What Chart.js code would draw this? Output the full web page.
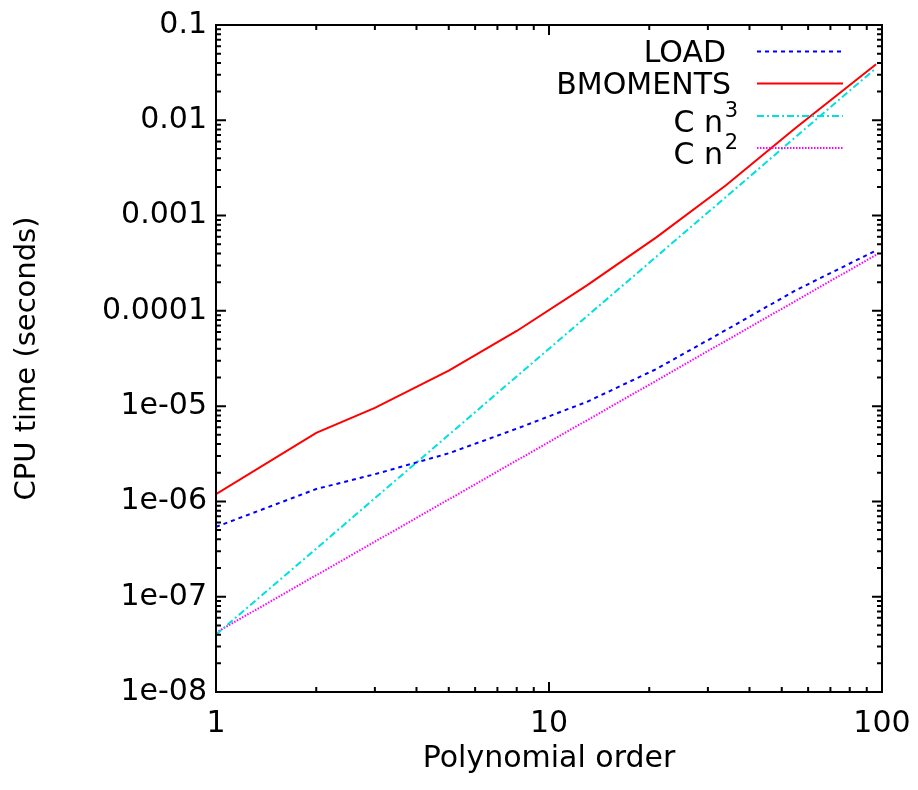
<!DOCTYPE html>
<html>
<head>
<meta charset="utf-8">
<script src="https://cdn.jsdelivr.net/npm/chart.js@4.4.1/dist/chart.umd.min.js"></script>
<style>
  html, body { margin: 0; padding: 0; background: #ffffff; }
  #wrap { width: 918px; height: 790px; }
</style>
</head>
<body>
<div id="wrap"><canvas id="c" width="918" height="790"></canvas></div>
<script>
// ---- data ----
const orders = [1, 2, 3, 5, 8, 13, 21, 34, 55, 96];
const loadTimes = [5.4e-7, 1.35e-6, 1.93e-6, 3.2e-6, 5.8e-6, 1.11e-5, 2.45e-5, 6.3e-5, 1.64e-4, 4.3e-4];
const bmomentsTimes = [1.19e-6, 5.24e-6, 9.6e-6, 2.36e-5, 6.15e-5, 1.85e-4, 5.9e-4, 2.08e-3, 8.3e-3, 3.87e-2];
const cn3Values = [4.0e-8, 3.2e-7, 1.08e-6, 5.0e-6, 2.05e-5, 8.8e-5, 3.7e-4, 1.57e-3, 6.66e-3, 3.54e-2];
const cn2Values = [4.2e-8, 1.68e-7, 3.78e-7, 1.05e-6, 2.69e-6, 7.1e-6, 1.85e-5, 4.86e-5, 1.27e-4, 3.87e-4];

const seriesNames = ['LOAD', 'BMOMENTS', 'C n^3', 'C n^2'];

const xTickValues = [1, 10, 100];
const xTickLabels = ['1', '10', '100'];
const yTickValues = [1e-8, 1e-7, 1e-6, 1e-5, 1e-4, 1e-3, 1e-2, 1e-1];
const yTickLabels = ['1e-08', '1e-07', '1e-06', '1e-05', '0.0001', '0.001', '0.01', '0.1'];

const xTitle = 'Polynomial order';
const yTitle = 'CPU time (seconds)';

// ---- build ----
const FONT = '"DejaVu Sans", "Liberation Sans", Arial, sans-serif';
function pts(ys) { return orders.map((x, i) => ({ x: x, y: ys[i] })); }

const styles = [
  { color: '#0000ff', dash: [4, 4] },
  { color: '#ff0000', dash: [] },
  { color: '#00e0e0', dash: [7, 3, 2, 3] },
  { color: '#ff00ff', dash: [1.5, 1.5] }
];
const seriesData = [loadTimes, bmomentsTimes, cn3Values, cn2Values];

const datasets = seriesNames.map((name, i) => ({
  label: name,
  data: pts(seriesData[i]),
  borderColor: styles[i].color,
  backgroundColor: styles[i].color,
  borderDash: styles[i].dash,
  borderWidth: 2,
  pointRadius: 0,
  tension: 0,
  fill: false
}));

const framePlugin = {
  id: 'gnuplotFrame',
  afterDatasetsDraw(chart) {
    const ctx = chart.ctx;
    const a = chart.chartArea;
    const xs = chart.scales.x, ys = chart.scales.y;
    ctx.save();
    ctx.strokeStyle = '#000';
    ctx.lineWidth = 2;
    ctx.setLineDash([]);
    ctx.strokeRect(a.left, a.top, a.right - a.left, a.bottom - a.top);
    const major = 10, minor = 5;
    ctx.beginPath();
    for (let d = xs.min; d <= xs.max * 1.0001; d *= 10) {
      const p = xs.getPixelForValue(d);
      ctx.moveTo(p, a.bottom); ctx.lineTo(p, a.bottom - major);
      ctx.moveTo(p, a.top); ctx.lineTo(p, a.top + major);
      if (d < xs.max * 0.999) {
        for (let m = 2; m <= 9; m++) {
          const q = xs.getPixelForValue(d * m);
          ctx.moveTo(q, a.bottom); ctx.lineTo(q, a.bottom - minor);
          ctx.moveTo(q, a.top); ctx.lineTo(q, a.top + minor);
        }
      }
    }
    for (let d = ys.min; d <= ys.max * 1.0001; d *= 10) {
      const p = ys.getPixelForValue(d);
      ctx.moveTo(a.left, p); ctx.lineTo(a.left + major, p);
      ctx.moveTo(a.right, p); ctx.lineTo(a.right - major, p);
      if (d < ys.max * 0.999) {
        for (let m = 2; m <= 9; m++) {
          const q = ys.getPixelForValue(d * m);
          ctx.moveTo(a.left, q); ctx.lineTo(a.left + minor, q);
          ctx.moveTo(a.right, q); ctx.lineTo(a.right - minor, q);
        }
      }
    }
    ctx.stroke();

    // legend (gnuplot style, top right inside)
    const rowY = [51.5, 83.5, 116, 148];
    const lineX0 = 757, lineX1 = 843;
    chart.data.datasets.forEach((ds, i) => {
      const y = rowY[i];
      ctx.strokeStyle = ds.borderColor;
      ctx.lineWidth = 2;
      ctx.setLineDash(ds.borderDash || []);
      ctx.beginPath();
      ctx.moveTo(lineX0, y); ctx.lineTo(lineX1, y);
      ctx.stroke();
      ctx.setLineDash([]);
      ctx.fillStyle = '#000';
      ctx.textBaseline = 'alphabetic';
      ctx.textAlign = 'right';
      const parts = ds.label.split('^');
      if (parts.length === 2) {
        ctx.font = '30px ' + FONT;
        ctx.fillText(parts[0], 723, y + 15.5);
        ctx.font = '21px ' + FONT;
        ctx.fillText(parts[1], 738, y + 0.5);
      } else {
        ctx.font = '30px ' + FONT;
        ctx.fillText(ds.label, i === 0 ? 726 : 731, y + 10.5);
      }
    });
    ctx.restore();
  }
};

new Chart(document.getElementById('c'), {
  type: 'line',
  data: { datasets: datasets },
  options: {
    responsive: false,
    devicePixelRatio: 1,
    animation: false,
    layout: { padding: { left: 0, right: 36, top: 25, bottom: 0 } },
    plugins: { legend: { display: false }, tooltip: { enabled: false } },
    scales: {
      x: {
        type: 'logarithmic',
        position: 'bottom',
        min: 1, max: 100,
        afterBuildTicks: (s) => { s.ticks = xTickValues.map(v => ({ value: v })); },
        afterFit: (s) => { s.height = 98; s.paddingLeft = 0; s.paddingRight = 0; },
        grid: { display: false, drawTicks: false },
        border: { display: false },
        ticks: {
          autoSkip: false, maxRotation: 0, padding: 14,
          color: '#000', font: { family: FONT, size: 30 },
          callback: (v) => { const i = xTickValues.indexOf(v); return i >= 0 ? xTickLabels[i] : null; }
        },
        title: {
          display: true, text: xTitle, color: '#000',
          font: { family: FONT, size: 30 }, padding: { top: 0, bottom: 13 }
        }
      },
      y: {
        type: 'logarithmic',
        position: 'left',
        min: 1e-8, max: 0.1,
        afterBuildTicks: (s) => { s.ticks = yTickValues.map(v => ({ value: v })); },
        afterFit: (s) => { s.width = 216; s.paddingTop = 0; s.paddingBottom = 0; },
        grid: { display: false, drawTicks: false },
        border: { display: false },
        ticks: {
          autoSkip: false, padding: 9,
          color: '#000', font: { family: FONT, size: 30 },
          callback: (v) => { const i = yTickValues.findIndex(t => Math.abs(t - v) / t < 1e-6); return i >= 0 ? yTickLabels[i] : null; }
        },
        title: {
          display: true, text: yTitle, color: '#000',
          font: { family: FONT, size: 29 }, padding: { top: 10, bottom: 0 }
        }
      }
    }
  },
  plugins: [framePlugin]
});
</script>
</body>
</html>
